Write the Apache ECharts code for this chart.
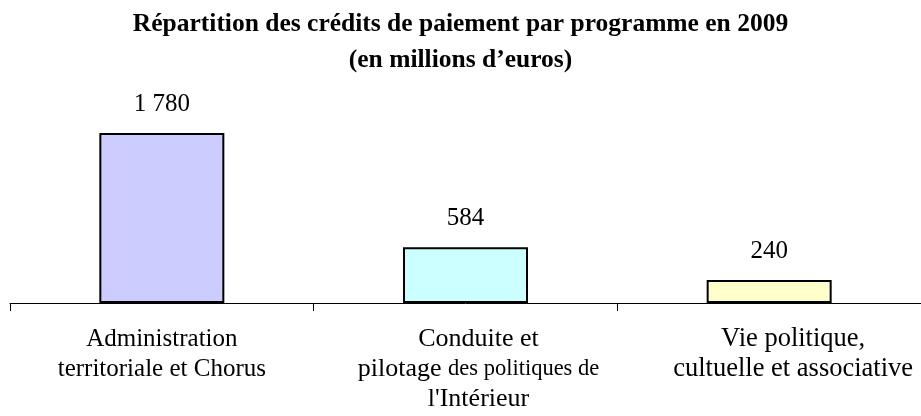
<!DOCTYPE html>
<html>
<head>
<meta charset="utf-8">
<script src="https://cdn.jsdelivr.net/npm/echarts@6/dist/echarts.min.js"></script>
<style>
  html, body { margin: 0; padding: 0; background: #fff; }
  #chart { width: 921px; height: 416px; }
</style>
</head>
<body>
<div id="chart"></div>
<script>
  // libellés des programmes
  const categories = [
    'Administration\nterritoriale et Chorus',
    'Conduite et\npilotage {sm|des politiques de}\nl\'Intérieur',
    'Vie politique,\ncultuelle et associative'
  ];
  // crédits de paiement (millions d'euros)
  const values = [1780, 584, 240];
  const barColors = ['#ccccff', '#ccffff', '#ffffcc'];

  const serif = '"Liberation Serif", "Times New Roman", serif';

  // 1780 -> "1 780"
  function fmt(v) {
    return String(v).replace(/\B(?=(\d{3})+(?!\d))/g, ' ');
  }

  // réglages propres à chaque libellé (taille, léger décalage)
  const labelStyles = [
    {},
    { fontSize: 26, padding: [0, 0, 0, 26] },
    { fontSize: 26.5, padding: [0, 0, 0, 48] }
  ];

  const chart = echarts.init(document.getElementById('chart'));
  const option = {
    animation: false,
    title: {
      text: 'Répartition des crédits de paiement par programme en 2009\n(en millions d’euros)',
      left: 'center',
      top: 1,
      textStyle: {
        fontFamily: serif,
        fontWeight: 'bold',
        fontSize: 25.5,
        lineHeight: 36,
        color: '#000'
      }
    },
    grid: {
      left: 10,
      width: 921,
      top: 112,
      height: 191
    },
    xAxis: {
      type: 'category',
      data: categories.map((c, i) => ({ value: c, textStyle: labelStyles[i] })),
      axisLine: { lineStyle: { color: '#000', width: 1 } },
      axisTick: { show: true, length: 8, lineStyle: { color: '#000' } },
      axisLabel: {
        interval: 0,
        margin: 21,
        fontFamily: serif,
        fontSize: 25,
        lineHeight: 30,
        color: '#000',
        rich: {
          sm: { fontFamily: serif, fontSize: 22.5, lineHeight: 30, color: '#000' }
        }
      }
    },
    yAxis: {
      type: 'value',
      min: 0,
      max: 2000,
      show: false,
      splitLine: { show: false }
    },
    series: [{
      type: 'bar',
      data: values.map((v, i) => ({
        value: v,
        itemStyle: { color: barColors[i] }
      })),
      barWidth: 125,
      itemStyle: { borderColor: '#000', borderWidth: 2 },
      label: {
        show: true,
        position: 'top',
        distance: 16,
        fontFamily: serif,
        fontSize: 25,
        color: '#000',
        formatter: p => fmt(p.value)
      }
    }]
  };
  chart.setOption(option);
</script>
</body>
</html>
